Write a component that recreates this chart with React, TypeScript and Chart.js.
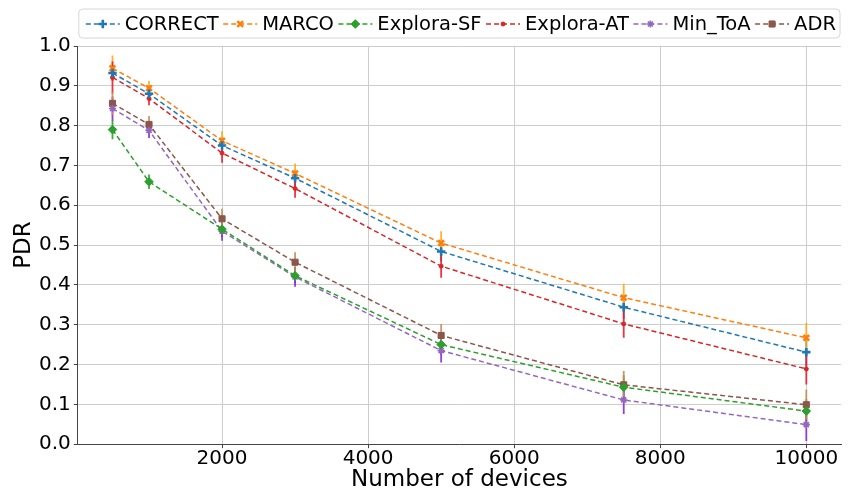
import React, { useEffect, useRef } from "react";
import { Chart, registerables } from "chart.js";
import { drawPoint } from "chart.js/helpers";

Chart.register(...registerables);

const devices = [500, 1000, 2000, 3000, 5000, 7500, 10000];
const correct = [0.932, 0.880, 0.750, 0.668, 0.484, 0.344, 0.231];
const marco = [0.944, 0.894, 0.762, 0.680, 0.505, 0.368, 0.267];
const exploraSF = [0.790, 0.659, 0.540, 0.423, 0.250, 0.143, 0.083];
const exploraAT = [0.921, 0.868, 0.731, 0.642, 0.447, 0.302, 0.189];
const minToA = [0.843, 0.788, 0.535, 0.420, 0.235, 0.111, 0.049];
const adr = [0.856, 0.803, 0.566, 0.457, 0.273, 0.149, 0.099];

const correctErr = [0.02, 0.015, 0.02, 0.02, 0.025, 0.03, 0.035];
const marcoErr = [0.032, 0.018, 0.024, 0.025, 0.03, 0.035, 0.038];
const exploraSFErr = [0.024, 0.018, 0.02, 0.02, 0.025, 0.03, 0.03];
const exploraATErr = [0.04, 0.017, 0.024, 0.023, 0.029, 0.035, 0.039];
const minToAErr = [0.03, 0.019, 0.024, 0.025, 0.03, 0.035, 0.041];
const adrErr = [0.029, 0.021, 0.025, 0.025, 0.029, 0.035, 0.038];

const xTicks = [2000, 4000, 6000, 8000, 10000];
const xMin = 25;
const xMax = 10475;

const FONT = '"DejaVu Sans", sans-serif';

type Series = {
  label: string;
  values: number[];
  errors: number[];
  color: string;
  errColor: string;
  pointStyle: string;
  radius: number;
  borderWidth: number;
};

const series: Series[] = [
  { label: "CORRECT", values: correct, errors: correctErr, color: "#1f77b4", errColor: "rgba(31,119,180,0.9)", pointStyle: "cross", radius: 4.2, borderWidth: 2.6 },
  { label: "MARCO", values: marco, errors: marcoErr, color: "#ff7f0e", errColor: "rgba(255,170,20,0.9)", pointStyle: "crossRot", radius: 4, borderWidth: 2.6 },
  { label: "Explora-SF", values: exploraSF, errors: exploraSFErr, color: "#2ca02c", errColor: "rgba(44,160,44,0.9)", pointStyle: "rectRot", radius: 4.3, borderWidth: 1 },
  { label: "Explora-AT", values: exploraAT, errors: exploraATErr, color: "#d62728", errColor: "rgba(235,30,45,0.9)", pointStyle: "circle", radius: 2, borderWidth: 1 },
  { label: "Min_ToA", values: minToA, errors: minToAErr, color: "#9467bd", errColor: "rgba(140,40,220,0.9)", pointStyle: "star", radius: 3.6, borderWidth: 1.6 },
  { label: "ADR", values: adr, errors: adrErr, color: "#8c564b", errColor: "rgba(200,140,80,0.9)", pointStyle: "rect", radius: 4.3, borderWidth: 1 },
];

const errorBarPlugin = {
  id: "errorBars",
  beforeDatasetsDraw(chart: any) {
    const ctx = chart.ctx;
    const xs = chart.scales.x;
    const ys = chart.scales.y;
    ctx.save();
    ctx.beginPath();
    ctx.rect(chart.chartArea.left, chart.chartArea.top, chart.chartArea.right - chart.chartArea.left, chart.chartArea.bottom - chart.chartArea.top);
    ctx.clip();
    chart.data.datasets.forEach((ds: any) => {
      ctx.strokeStyle = ds.errColor;
      ctx.lineWidth = 1.8;
      ds.data.forEach((p: any, i: number) => {
        const e = ds.errors[i];
        const px = xs.getPixelForValue(p.x);
        ctx.beginPath();
        ctx.moveTo(px, ys.getPixelForValue(p.y - e));
        ctx.lineTo(px, ys.getPixelForValue(p.y + e));
        ctx.stroke();
      });
    });
    ctx.restore();
  },
};

const legendPlugin = {
  id: "mplLegend",
  afterDraw(chart: any) {
    const ctx = chart.ctx;
    const { left, right } = chart.chartArea;
    const boxTop = 9;
    const boxH = 29;
    const yc = boxTop + boxH / 2 + 0.5;
    ctx.save();
    ctx.font = `19.5px ${FONT}`;
    const handle = 34;
    const pad = 5;
    const dss = chart.data.datasets;
    const widths = dss.map((ds: any) => handle + pad + ctx.measureText(ds.label).width);
    const x0 = left + 8;
    const x1 = right - 5;
    const total = widths.reduce((a: number, b: number) => a + b, 0);
    const gap = (x1 - x0 - total) / (dss.length - 1);

    ctx.beginPath();
    ctx.roundRect(left + 1, boxTop, right - left - 2, boxH, 4);
    ctx.fillStyle = "rgba(255,255,255,0.85)";
    ctx.fill();
    ctx.strokeStyle = "#d6d6d6";
    ctx.lineWidth = 1;
    ctx.stroke();

    let x = x0;
    dss.forEach((ds: any, i: number) => {
      ctx.save();
      ctx.strokeStyle = ds.borderColor;
      ctx.lineWidth = 1.5;
      ctx.setLineDash([5, 3]);
      ctx.beginPath();
      ctx.moveTo(x, yc);
      ctx.lineTo(x + handle, yc);
      ctx.stroke();
      ctx.restore();
      ctx.save();
      ctx.strokeStyle = ds.borderColor;
      ctx.fillStyle = ds.borderColor;
      ctx.setLineDash([]);
      ctx.lineWidth = ds.pointBorderWidth;
      drawPoint(ctx, { pointStyle: ds.pointStyle, radius: ds.pointRadius, rotation: 0, borderWidth: ds.pointBorderWidth }, x + handle / 2, yc);
      ctx.restore();
      ctx.fillStyle = "#000";
      ctx.textBaseline = "middle";
      ctx.textAlign = "left";
      ctx.fillText(ds.label, x + handle + pad, yc + 1);
      x += widths[i] + gap;
    });
    ctx.restore();
  },
};

export default function App() {
  const ref = useRef<HTMLCanvasElement | null>(null);

  useEffect(() => {
    if (!ref.current) return;
    const chart = new Chart(ref.current, {
      type: "line",
      data: {
        datasets: series.map((s) => ({
          label: s.label,
          data: devices.map((d, i) => ({ x: d, y: s.values[i] })),
          errors: s.errors,
          errColor: s.errColor,
          borderColor: s.color,
          backgroundColor: s.color,
          borderWidth: 1.5,
          borderDash: [5, 3],
          pointStyle: s.pointStyle,
          pointRadius: s.radius,
          pointBorderWidth: s.borderWidth,
          pointBackgroundColor: s.color,
          pointBorderColor: s.color,
          tension: 0,
          fill: false,
        })) as any,
      },
      options: {
        animation: false,
        responsive: true,
        maintainAspectRatio: false,
        layout: { padding: { top: 46, right: 8, left: 13, bottom: 0 } },
        plugins: {
          legend: { display: false },
          tooltip: { enabled: false },
        },
        scales: {
          x: {
            type: "linear",
            min: xMin,
            max: xMax,
            afterBuildTicks: (scale: any) => {
              scale.ticks = xTicks.map((v) => ({ value: v }));
            },
            ticks: {
              color: "#000",
              font: { family: FONT, size: 20, lineHeight: 1 },
              padding: 1,
              maxRotation: 0,
              callback: (v: any) => String(v),
            },
            grid: { color: "#cdcdcd", lineWidth: 1, tickLength: 4, tickColor: "#444" },
            border: { color: "#444", width: 1 },
            title: {
              display: true,
              text: "Number of devices",
              color: "#000",
              font: { family: FONT, size: 23, lineHeight: 0.82 },
              padding: { top: 0, bottom: 0 },
            },
          },
          y: {
            type: "linear",
            min: 0,
            max: 1,
            ticks: {
              stepSize: 0.1,
              color: "#000",
              font: { family: FONT, size: 20, lineHeight: 1 },
              padding: 3,
              callback: (v: any) => Number(v).toFixed(1),
            },
            grid: { color: "#cdcdcd", lineWidth: 1, tickLength: 4, tickColor: "#444" },
            border: { color: "#444", width: 1 },
            title: {
              display: true,
              text: "PDR",
              color: "#000",
              font: { family: FONT, size: 23, lineHeight: 1 },
              padding: { top: 0, bottom: 0 },
            },
          },
        },
      } as any,
      plugins: [errorBarPlugin, legendPlugin],
    });
    return () => chart.destroy();
  }, []);

  return (
    <div style={{ position: "absolute", left: 0, top: 0, width: 849, height: 489, background: "#fff" }}>
      <canvas ref={ref} />
    </div>
  );
}
